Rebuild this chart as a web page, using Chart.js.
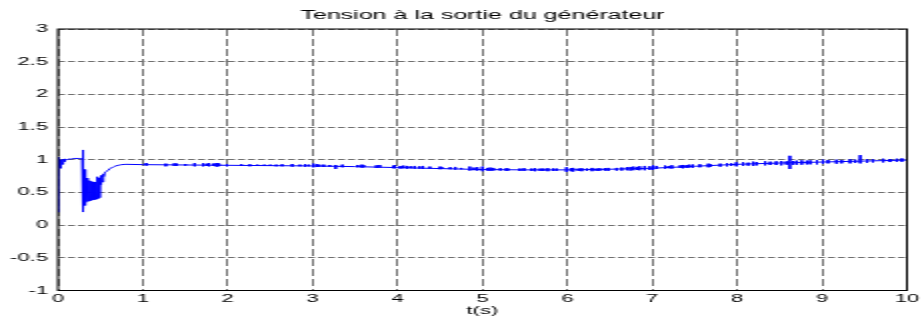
<!DOCTYPE html>
<html>
<head>
<meta charset="utf-8">
<script src="https://cdn.jsdelivr.net/npm/chart.js@4.4.1/dist/chart.umd.min.js"></script>
<style>
  html, body { margin: 0; padding: 0; background: #fff; overflow: hidden; }
  /* the original figure is stretched sideways, so draw narrow and stretch */
  #wrap { width: 462px; height: 320px; transform: scaleX(2); transform-origin: 0 0; }
</style>
</head>
<body>
<div id="wrap"><canvas id="tension" width="462" height="320"></canvas></div>
<script>
// generator output voltage (pu) against time (s)
const timeS = [
    0, 0.002, 0.006, 0.012, 0.015, 0.024, 0.027, 0.036, 0.039, 0.05, 0.053, 0.065, 0.068, 0.08, 0.083,
    0.1, 0.12, 0.15, 0.18, 0.21, 0.24, 0.27, 0.285,
    0.29, 0.292, 0.297, 0.302, 0.308, 0.314, 0.321, 0.328, 0.336, 0.344, 0.353, 0.362,
    0.371, 0.38, 0.389, 0.398, 0.407, 0.416, 0.425, 0.434, 0.443, 0.452,
    0.461, 0.47, 0.479, 0.488, 0.497, 0.5,
    0.51, 0.515, 0.52, 0.53, 0.54, 0.55, 0.57, 0.59, 0.62, 0.65, 0.68, 0.71, 0.75, 0.8,
    1, 1.5, 2, 2.5, 3, 3.5, 4, 4.5, 5, 5.5, 6, 6.5, 7, 7.5, 8, 8.5, 9, 9.5, 10
];
const voltage = [
    0.2, 1.04, 0.98, 0.82, 0.99, 0.87, 1.0, 0.9, 1.0, 0.93, 1.0, 0.95, 1.01, 0.97, 1.01,
    1.0, 1.01, 1.01, 1.02, 1.02, 1.02, 1.02, 1.01,
    1.15, 0.2, 0.95, 0.25, 0.85, 0.3, 0.76, 0.34, 0.72, 0.36, 0.69, 0.37,
    0.68, 0.38, 0.67, 0.38, 0.66, 0.39, 0.66, 0.39, 0.65, 0.4,
    0.74, 0.4, 0.72, 0.42, 0.7, 0.68,
    0.62, 0.76, 0.66, 0.78, 0.74, 0.8, 0.82, 0.84, 0.87, 0.89, 0.905, 0.915, 0.925, 0.93,
    0.925, 0.92, 0.915, 0.91, 0.905, 0.895, 0.88, 0.865, 0.85, 0.845, 0.845, 0.855, 0.87, 0.9, 0.93, 0.95, 0.965, 0.98, 0.995
];

// short noise spikes riding on the steady part
const spikeT = [
    1.04, 1.27, 1.37, 1.40, 1.50, 1.61, 1.71, 1.75, 1.78, 1.83, 1.86, 1.88, 1.90, 1.99,
    2.16, 2.26, 2.35, 2.43, 2.50, 2.57, 2.64, 2.76, 2.85, 2.91, 2.95,
    3.01, 3.05, 3.08, 3.13, 3.20, 3.27, 3.35, 3.53, 3.58, 3.60, 3.75, 3.79, 3.95, 3.97,
    4.03, 4.07, 4.11, 4.15, 4.20, 4.26, 4.30, 4.38, 4.50, 4.52, 4.62, 4.68, 4.75, 4.85, 4.90, 4.94,
    5.00, 5.06, 5.09, 5.13, 5.21, 5.28, 5.30, 5.44, 5.49, 5.58, 5.62, 5.68, 5.72, 5.77, 5.83, 5.87, 5.99,
    6.04, 6.07, 6.13, 6.17, 6.23, 6.29, 6.34, 6.38, 6.44, 6.48, 6.58, 6.64, 6.70, 6.74, 6.78, 6.82, 6.85, 6.91, 6.97,
    7.01, 7.05, 7.15, 7.19, 7.23, 7.33, 7.36, 7.40, 7.44, 7.48, 7.56, 7.66, 7.68, 7.80, 7.88, 7.93, 7.99,
    8.07, 8.13, 8.19, 8.23, 8.33, 8.39, 8.46, 8.52, 8.58, 8.62, 8.66, 8.70, 8.76, 8.82, 8.86, 8.94,
    9.01, 9.07, 9.17, 9.23, 9.33, 9.39, 9.45, 9.53, 9.60, 9.72, 9.80, 9.88, 9.94
];
const spikeHi = [
    0.95, 0.94, 0.945, 0.94, 0.935, 0.95, 0.945, 0.94, 0.95, 0.94, 0.945, 0.95, 0.94, 0.935,
    0.93, 0.93, 0.925, 0.925, 0.925, 0.925, 0.93, 0.935, 0.925, 0.93, 0.925,
    0.94, 0.93, 0.925, 0.925, 0.92, 0.92, 0.925, 0.92, 0.925, 0.92, 0.915, 0.92, 0.91, 0.915,
    0.905, 0.91, 0.905, 0.9, 0.905, 0.9, 0.905, 0.895, 0.895, 0.89, 0.885, 0.89, 0.875, 0.895, 0.88, 0.885,
    0.895, 0.875, 0.88, 0.875, 0.87, 0.87, 0.865, 0.865, 0.87, 0.865, 0.87, 0.865, 0.865, 0.87, 0.865, 0.865, 0.885,
    0.87, 0.875, 0.865, 0.87, 0.865, 0.875, 0.865, 0.87, 0.87, 0.875, 0.875, 0.88, 0.885, 0.89, 0.895, 0.89, 0.9, 0.905, 0.9,
    0.915, 0.905, 0.91, 0.905, 0.915, 0.915, 0.92, 0.92, 0.925, 0.925, 0.93, 0.94, 0.935, 0.94, 0.95, 0.945, 0.96,
    0.96, 0.955, 0.97, 0.965, 0.975, 0.97, 0.975, 0.98, 0.975, 1.06, 0.98, 0.985, 0.99, 0.985, 0.99, 0.995,
    1.0, 0.995, 1.0, 0.995, 1.005, 1.0, 1.07, 1.01, 1.005, 1.015, 1.01, 1.015, 1.02
];
const spikeLo = [
    0.91, 0.9, 0.905, 0.91, 0.91, 0.9, 0.9, 0.905, 0.9, 0.91, 0.9, 0.895, 0.905, 0.9,
    0.905, 0.9, 0.905, 0.905, 0.905, 0.9, 0.9, 0.895, 0.9, 0.895, 0.9,
    0.885, 0.89, 0.895, 0.89, 0.895, 0.86, 0.885, 0.885, 0.88, 0.885, 0.875, 0.88, 0.87, 0.87,
    0.865, 0.87, 0.865, 0.87, 0.865, 0.865, 0.86, 0.865, 0.855, 0.86, 0.855, 0.85, 0.855, 0.835, 0.84, 0.835,
    0.825, 0.835, 0.83, 0.835, 0.835, 0.83, 0.835, 0.83, 0.83, 0.83, 0.825, 0.83, 0.83, 0.825, 0.83, 0.83, 0.815,
    0.825, 0.82, 0.83, 0.825, 0.83, 0.825, 0.83, 0.83, 0.835, 0.83, 0.835, 0.835, 0.84, 0.835, 0.84, 0.845, 0.84, 0.84, 0.845,
    0.845, 0.86, 0.865, 0.87, 0.865, 0.875, 0.87, 0.875, 0.88, 0.88, 0.885, 0.885, 0.89, 0.895, 0.9, 0.905, 0.9,
    0.905, 0.91, 0.905, 0.915, 0.915, 0.92, 0.92, 0.915, 0.925, 0.86, 0.925, 0.925, 0.925, 0.93, 0.93, 0.93,
    0.935, 0.945, 0.94, 0.945, 0.945, 0.95, 0.945, 0.955, 0.96, 0.96, 0.965, 0.97, 0.97
];

const xTicks = [0, 10, 1];     // min, max, step
const yTicks = [-1, 3, 0.5];

const mainPts = timeS.map((t, i) => ({x: t, y: voltage[i]}));
var spikePts = [];
for (var i = 0; i < spikeT.length; i++) {
    spikePts.push({x: spikeT[i], y: spikeHi[i]});
    spikePts.push({x: spikeT[i], y: spikeLo[i]});
    spikePts.push({x: spikeT[i], y: null}); // break between spikes
}

// MATLAB style box round the plot area
const boxPlugin = {
    id: 'box',
    afterDraw(chart) {
        const a = chart.chartArea, ctx = chart.ctx;
        ctx.save();
        ctx.strokeStyle = '#000';
        ctx.lineWidth = 1;
        ctx.strokeRect(a.left, a.top, a.right - a.left, a.bottom - a.top);
        ctx.restore();
    }
};

const font = "'Liberation Sans', Arial, Helvetica, sans-serif";
// plain numbers: 3, 2.5, 2 ... not 3.0
const plainLabel = v => String(Math.round(v * 10) / 10);

new Chart(document.getElementById('tension'), {
    type: 'line',
    data: {
        datasets: [
            { data: mainPts, borderColor: '#0000ff', borderWidth: 1, pointRadius: 0, tension: 0 },
            { data: spikePts, borderColor: '#0000ff', borderWidth: 1, pointRadius: 0, tension: 0, spanGaps: false }
        ]
    },
    options: {
        responsive: false,
        animation: false,
        devicePixelRatio: 1,
        layout: { padding: { left: 0, right: 8.5, top: 0, bottom: 0 } },
        scales: {
            x: {
                type: 'linear',
                min: xTicks[0], max: xTicks[1],
                ticks: { stepSize: xTicks[2], color: '#000', padding: 2, font: { family: font, size: 11 }, callback: plainLabel },
                grid: { color: '#707070', lineWidth: 1, drawTicks: false },
                border: { display: false, dash: [7, 3] },
                title: { display: true, text: 't(s)', color: '#000', padding: { top: 0, bottom: 2 }, font: { family: font, size: 11 } },
                afterFit(s) { s.height = 29.5; }
            },
            y: {
                min: yTicks[0], max: yTicks[1],
                ticks: { stepSize: yTicks[2], color: '#000', padding: 5, font: { family: font, size: 11 }, callback: plainLabel },
                grid: { color: '#707070', lineWidth: 1, drawTicks: false },
                border: { display: false, dash: [3.5, 1.5] },
                afterFit(s) { s.width = 29; }
            }
        },
        plugins: {
            legend: { display: false },
            tooltip: { enabled: false },
            title: {
                display: true,
                text: 'Tension à la sortie du générateur',
                color: '#000',
                fullSize: false,
                padding: { top: 8, bottom: 6 },
                font: { family: font, size: 12.5, weight: 'normal' }
            }
        }
    },
    plugins: [boxPlugin]
});
</script>
</body>
</html>
